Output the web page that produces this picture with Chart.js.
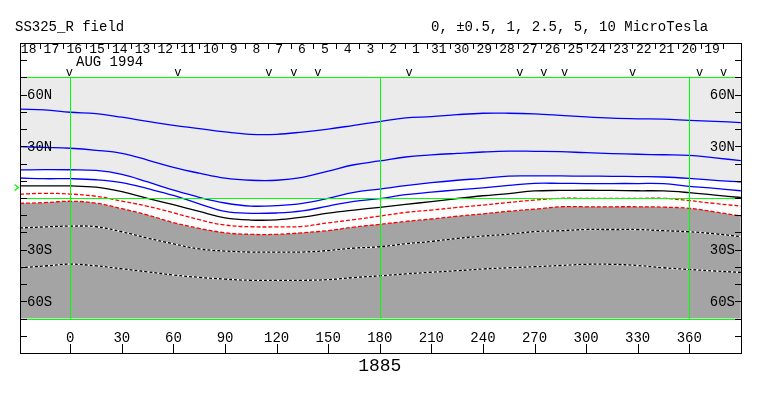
<!DOCTYPE html>
<html>
<head>
<meta charset="utf-8">
<script src="https://cdn.jsdelivr.net/npm/chart.js@4.4.0/dist/chart.umd.min.js"></script>
<style>
  body { margin: 0; background: #fff; }
  canvas { display: block; }
</style>
</head>
<body>
<canvas id="myChart" width="763" height="396"></canvas>
<script>
//Data - Carrington longitude (deg) and latitude (deg) of each contour
let lons = [-29.3, -15, 0, 15, 30, 45, 60, 75, 90, 105, 120, 135, 150, 165, 180,
            195, 210, 225, 240, 255, 270, 285, 300, 315, 330, 345, 360, 375, 390];

// positive contours (blue)
let pos5   = [51.6, 51.2, 49.8, 49.0, 46.9, 44.5, 42.2, 40.3, 38.4, 37.0, 37.0, 38.3, 40.0, 42.2, 44.4,
              46.5, 47.3, 48.4, 49.2, 49.2, 48.8, 48.0, 47.1, 46.4, 46.0, 45.8, 45.1, 44.5, 43.8];
let pos2_5 = [29.8, 29.4, 28.9, 27.7, 25.9, 22.0, 17.8, 14.4, 11.5, 10.3, 10.3, 12.0, 15.6, 19.3, 21.5,
              23.8, 25.0, 25.9, 26.7, 27.2, 27.1, 26.9, 26.3, 25.8, 25.4, 25.1, 24.8, 23.3, 21.7];
let pos1   = [16.3, 16.5, 16.4, 16.0, 13.7, 9.3, 4.6, 0.4, -2.9, -4.7, -4.4, -3.1, -0.2, 3.3, 5.2,
              7.2, 8.9, 10.3, 11.4, 12.7, 12.8, 12.8, 12.7, 12.6, 12.4, 12.2, 11.4, 10.2, 9.3];
let pos05  = [11.6, 11.2, 11.2, 10.6, 8.9, 5.4, 1.5, -3.4, -7.8, -8.9, -8.7, -7.5, -4.7, -1.9, -0.4,
              1.9, 3.4, 4.7, 5.9, 7.3, 8.5, 8.5, 8.4, 8.4, 8.4, 8.3, 6.8, 5.6, 4.2];
// neutral line (black)
let zero   = [7.0, 7.0, 7.0, 6.3, 3.7, -0.2, -3.9, -7.8, -11.5, -12.8, -12.7, -11.1, -8.8, -7.0, -5.4,
              -3.7, -2.1, -0.3, 1.3, 2.6, 4.1, 4.4, 4.5, 4.4, 4.2, 4.1, 3.1, 1.7, 0.3];
// negative contours (red dashed, then dashed inside the shaded area)
let neg05  = [2.2, 2.7, 2.3, 1.0, -1.8, -4.8, -8.6, -12.6, -15.7, -16.7, -16.8, -16.5, -14.4, -12.6, -10.5,
              -8.4, -7.0, -5.5, -4.1, -2.6, -1.2, -0.2, -0.2, -0.2, -0.2, -0.2, -1.5, -3.2, -4.7];
let neg1   = [-3.1, -2.7, -1.9, -3.0, -6.2, -9.9, -14.3, -17.6, -20.2, -21.1, -21.1, -20.2, -18.9, -16.9, -15.3,
              -13.6, -12.2, -10.6, -9.2, -7.7, -6.5, -5.1, -5.1, -5.1, -5.1, -5.3, -6.0, -8.1, -10.5];
let neg2_5 = [-17.4, -16.8, -16.3, -16.7, -19.6, -23.3, -26.6, -29.6, -30.8, -31.4, -31.4, -31.4, -30.5, -29.1, -28.3,
              -26.6, -25.2, -23.5, -22.1, -21.0, -19.5, -19.0, -18.3, -18.3, -18.3, -19.0, -19.6, -20.8, -22.4];
let neg5   = [-40.5, -39.5, -38.4, -39.4, -41.1, -42.9, -44.7, -46.1, -47.1, -47.8, -47.8, -47.8, -47.4, -46.2, -45.2,
              -44.1, -43.1, -42.2, -41.2, -40.5, -39.9, -39.2, -38.5, -38.5, -39.2, -40.5, -41.5, -42.4, -43.2];

// axis / strip labels
let lonTicks = [0, 30, 60, 90, 120, 150, 180, 210, 240, 270, 300, 330, 360];
let latLabels = [[60, '60N'], [30, '30N'], [-30, '30S'], [-60, '60S']];
let days = ['18','17','16','15','14','13','12','11','10','9','8','7','6','5','4','3','2','1',
            '31','30','29','28','27','26','25','24','23','22','21','20','19'];
let daySep0 = -17.6;   // longitude of first day boundary
let dayStep = 13.25;   // degrees per day
let obsLons = [-0.5, 62.5, 115.5, 130, 144, 197, 261.5, 275.5, 287.5, 327, 366, 380];
let b0 = 6.4;
let rotation = '1885';

function pts(arr) {
  return arr.map((v, i) => ({x: lons[i], y: v}));
}

function crisp(v) { return Math.round(v) + 0.5; }

const POS1_INDEX = 7;

let decor = {
  id: 'decor',
  beforeDatasetsDraw(chart) {
    let ctx = chart.ctx;
    let x = chart.scales.x, y = chart.scales.y;
    // light shading: north of the equator and above the +1 contour
    let t = Math.round(y.getPixelForValue(70));
    let b = Math.round(y.getPixelForValue(0));
    let el = chart.getDatasetMeta(POS1_INDEX).dataset;
    el.updateControlPoints(chart.chartArea, 'x');
    ctx.save();
    ctx.beginPath();
    ctx.rect(x.left, t, x.right - x.left, b - t);
    ctx.clip();
    ctx.beginPath();
    el.path(ctx);
    ctx.lineTo(x.right, t);
    ctx.lineTo(x.left, t);
    ctx.closePath();
    ctx.fillStyle = '#ebebeb';
    ctx.fill();
    ctx.restore();
  },
  afterDatasetsDraw(chart) {
    let ctx = chart.ctx;
    let x = chart.scales.x, y = chart.scales.y;
    let L = x.left, R = x.right, T = y.top, B = y.bottom;
    ctx.save();
    ctx.lineWidth = 1;

    // green reference lines
    ctx.strokeStyle = '#00ff00';
    ctx.beginPath();
    [70, 0, -70].forEach(function(v) {
      let py = crisp(y.getPixelForValue(v));
      ctx.moveTo(L, py); ctx.lineTo(R, py);
    });
    [0, 180, 360].forEach(function(v) {
      let px = crisp(x.getPixelForValue(v));
      ctx.moveTo(px, y.getPixelForValue(70)); ctx.lineTo(px, y.getPixelForValue(-70));
    });
    ctx.stroke();

    // B0 marker
    let yb = Math.round(y.getPixelForValue(b0));
    ctx.lineWidth = 1.3;
    ctx.beginPath();
    ctx.moveTo(14.5, yb - 2.5); ctx.lineTo(18.5, yb + 0.5); ctx.lineTo(14.5, yb + 3.5);
    ctx.stroke();
    ctx.lineWidth = 1;

    // frame
    ctx.strokeStyle = '#000';
    ctx.strokeRect(L + 0.5, T + 0.5, R - L, B - T);

    // latitude ticks
    ctx.beginPath();
    for (let v = -80; v <= 80; v += 10) {
      let py = crisp(y.getPixelForValue(v));
      ctx.moveTo(L, py); ctx.lineTo(L + 7, py);
      ctx.moveTo(R - 6, py); ctx.lineTo(R + 1, py);
    }
    // longitude ticks
    lonTicks.forEach(function(v) {
      let px = crisp(x.getPixelForValue(v));
      ctx.moveTo(px, B - 9); ctx.lineTo(px, B);
    });
    // day boundaries
    for (let i = 0; i < days.length; i++) {
      let px = crisp(x.getPixelForValue(daySep0 + dayStep * i));
      ctx.moveTo(px, T + 1); ctx.lineTo(px, T + 6);
    }
    ctx.stroke();

    ctx.fillStyle = '#000';
    ctx.font = '14px "Liberation Mono", monospace';
    ctx.textBaseline = 'middle';

    ctx.textAlign = 'left';
    latLabels.forEach(function(l) {
      ctx.fillText(l[1], L + 7, y.getPixelForValue(l[0]) + 1);
    });
    ctx.textAlign = 'right';
    latLabels.forEach(function(l) {
      ctx.fillText(l[1], R - 6, y.getPixelForValue(l[0]) + 1);
    });

    ctx.textAlign = 'center';
    lonTicks.forEach(function(v) {
      ctx.fillText(String(v), x.getPixelForValue(v), B - 15);
    });
    ctx.font = '13px "Liberation Mono", monospace';
    days.forEach(function(d, i) {
      ctx.fillText(d, x.getPixelForValue(daySep0 + dayStep * (i - 0.5)), T + 7);
    });

    ctx.font = '14px "Liberation Mono", monospace';
    ctx.textAlign = 'left';
    ctx.fillText('AUG 1994', 76, 62);
    ctx.fillText('SS325_R field', 15, 27);
    ctx.fillText('0, \u00b10.5, 1, 2.5, 5, 10 MicroTesla', 431, 27);

    ctx.font = '12px "Liberation Mono", monospace';
    ctx.textAlign = 'center';
    ctx.textBaseline = 'alphabetic';
    obsLons.forEach(function(v) {
      ctx.fillText('v', x.getPixelForValue(v), T + 33);
    });

    ctx.font = '18px "Liberation Mono", monospace';
    ctx.textBaseline = 'middle';
    ctx.fillText(rotation, x.getPixelForValue(180), 366);
    ctx.restore();
  }
};

let line = {borderWidth: 1.3, pointRadius: 0, tension: 0.4, fill: false};

var ctx = document.getElementById('myChart').getContext('2d');
var myChart = new Chart(ctx, {
  type: 'line',
  data: {
    datasets: [
      Object.assign({}, line, {data: pts(neg5), borderColor: '#000', borderDash: [3, 2], order: 1}),
      Object.assign({}, line, {data: pts(neg5), borderColor: '#fff', order: 2}),
      Object.assign({}, line, {data: pts(neg2_5), borderColor: '#000', borderDash: [3, 2], order: 1}),
      Object.assign({}, line, {data: pts(neg2_5), borderColor: '#fff', order: 2}),
      Object.assign({}, line, {data: pts(neg05), borderColor: '#ff0000', borderDash: [4, 2], order: 1}),
      Object.assign({}, line, {data: pts(zero), borderColor: '#000', order: 1}),
      Object.assign({}, line, {data: pts(pos05), borderColor: '#0000ff', order: 1}),
      Object.assign({}, line, {data: pts(pos1), borderColor: '#0000ff', order: 1}),
      Object.assign({}, line, {data: pts(pos2_5), borderColor: '#0000ff', order: 1}),
      Object.assign({}, line, {data: pts(pos5), borderColor: '#0000ff', order: 1}),
      Object.assign({}, line, {data: pts(neg1), borderColor: '#ff0000', borderDash: [4, 2],
        fill: {value: -70}, backgroundColor: '#a4a4a4', order: 5})
    ]
  },
  options: {
    responsive: false,
    animation: false,
    devicePixelRatio: 1,
    layout: {padding: {left: 20, top: 43, right: 22, bottom: 43}},
    scales: {
      x: {type: 'linear', min: -29.25, max: 390.1, display: false},
      y: {type: 'linear', min: -90, max: 90, display: false}
    },
    plugins: {legend: {display: false}, tooltip: {enabled: false}}
  },
  plugins: [decor]
});
</script>
</body>
</html>
